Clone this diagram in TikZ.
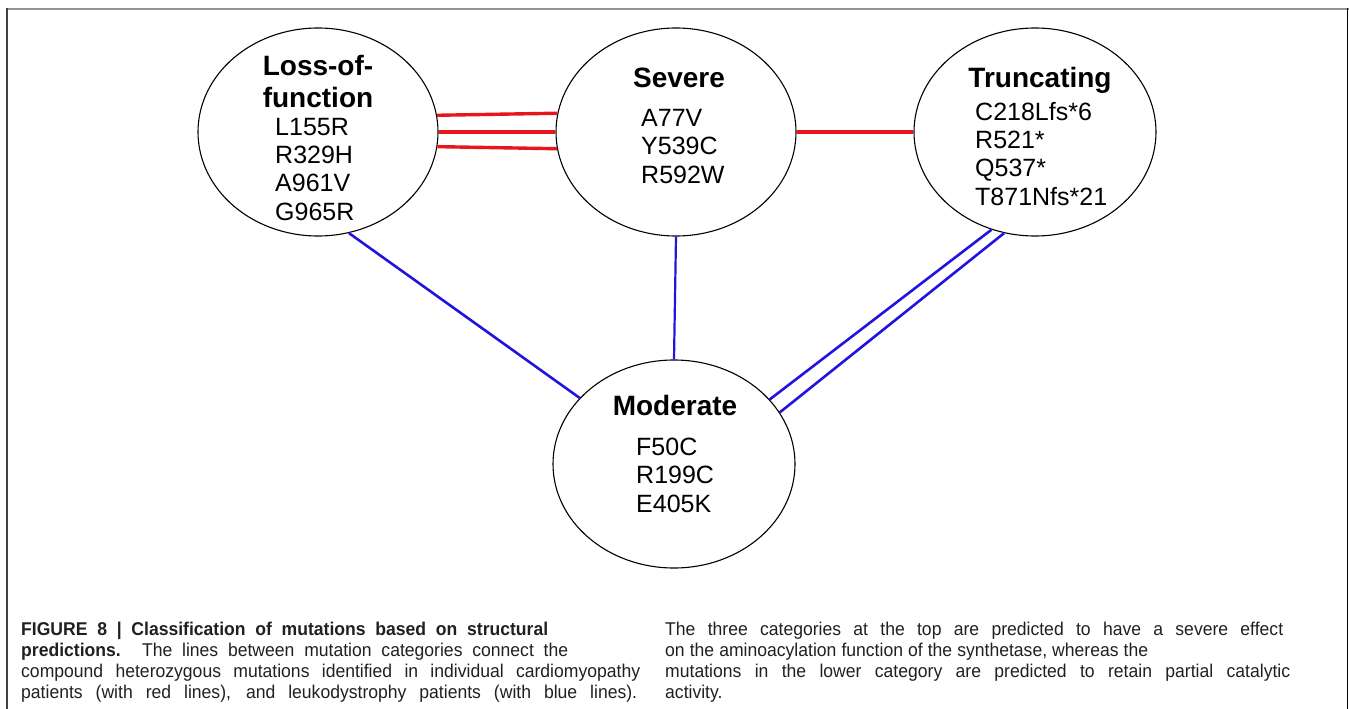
\documentclass[tikz,border=0pt]{standalone}
\usepackage{fontspec}
\setmainfont{Liberation Sans}
\newfontfamily\capfont[FakeStretch=0.95]{Liberation Sans}
\usetikzlibrary{shapes.geometric}
\definecolor{redline}{RGB}{232,22,28}
\definecolor{blueline}{RGB}{34,20,222}
\definecolor{captext}{RGB}{35,31,32}
\tikzset{
  cat/.style={draw=black, line width=1.1pt, ellipse, inner sep=0pt, minimum width=240pt, minimum height=208pt},
  ttl/.style={font={\fontsize{28}{32}\selectfont\bfseries}, anchor=base, inner sep=0pt, align=center},
  items/.style={font={\fontsize{25}{28.3}\selectfont}, anchor=base west, inner sep=0pt, align=left},
  redl/.style={draw=redline, line width=3.4pt},
  bluel/.style={draw=blueline, line width=2.6pt},
  capline/.style={font={\fontsize{18.5}{21}\selectfont\capfont}, text=captext, anchor=base west, inner sep=0pt}
}
\begin{document}
\begin{tikzpicture}[x=1pt, y=-1pt]
\useasboundingbox (0,0) rectangle (1349,709);
% frame
\draw[line width=2pt, draw=gray!85] (6,9) -- (1349,9);
\draw[line width=2pt, draw=black!75] (6.5,8) -- (6.5,709);
\draw[line width=1.6pt, draw=black] (1347.5,8) -- (1347.5,709);

% category ellipses
\node[cat] (loss) at (318,132) {};
\node[cat] (severe) at (676,132) {};
\node[cat, minimum width=242pt] (trunc) at (1035,132) {};
\node[cat, minimum width=242pt] (moderate) at (674,464) {};

% titles (anchor base = baseline of the last line)
\node[ttl] (lossT) at (318,107) {Loss-of-\\function};
\node[ttl] (severeT) at (679,88) {Severe};
\node[ttl] (truncT) at (1040,88) {Truncating};
\node[ttl] (moderateT) at (675,415) {Moderate};

% mutation lists (anchor base west = baseline of the last line)
\node[items] (lossI) at (275,220) {L155R\\R329H\\A961V\\G965R};
\node[items] (severeI) at (641,183) {A77V\\Y539C\\R592W};
\node[items] (truncI) at (975,205) {C218Lfs*6\\R521*\\Q537*\\T871Nfs*21};
\node[items] (moderateI) at (636,512) {F50C\\R199C\\E405K};

% red connectors (cardiomyopathy)
\draw[redl] (loss.8.2) -- (severe.171.8);
\draw[redl] (loss.0) -- (severe.180);
\draw[redl] (loss.-7.2) -- (severe.-172.8);
\draw[redl] (severe.0) -- (trunc.180);

% blue connectors (leukodystrophy)
\draw[bluel] (loss.-73) -- (moderate.145.5);
\draw[bluel, line width=2.2pt] (severe.south) -- (moderate.north);
\draw[bluel] (trunc.-114.9) -- (moderate.34.9);
\draw[bluel] (trunc.-107) -- (moderate.26.8);

% caption
\node[capline] (c1) at (21,635) {\makebox[527pt][s]{\bfseries FIGURE 8 | Classification of mutations based on structural}};
\node[capline] (c2) at (21,656) {\makebox[547pt][s]{\textbf{predictions.} The lines between mutation categories connect the}};
\node[capline] (c3) at (21,677) {\makebox[619pt][s]{compound heterozygous mutations identified in individual cardiomyopathy}};
\node[capline] (c4) at (21,698) {\makebox[616pt][s]{patients (with red lines), and leukodystrophy patients (with blue lines).}};
\node[capline] (c5) at (665,635) {\makebox[618pt][s]{The three categories at the top are predicted to have a severe effect}};
\node[capline] (c6) at (665,656) {\makebox[483pt][s]{on the aminoacylation function of the synthetase, whereas the}};
\node[capline] (c7) at (665,677) {\makebox[625pt][s]{mutations in the lower category are predicted to retain partial catalytic}};
\node[capline] (c8) at (665,698) {activity.};
\end{tikzpicture}
\end{document}
